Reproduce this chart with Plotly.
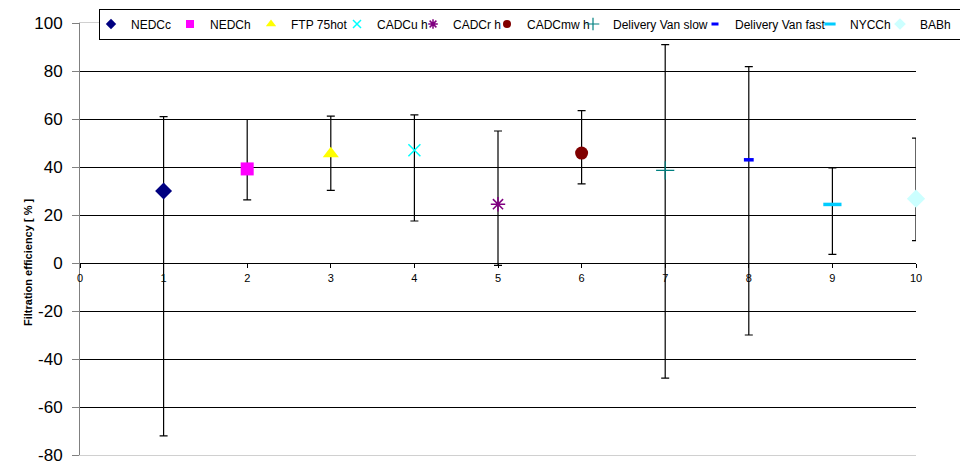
import plotly.graph_objects as go

# ---- data ----
series_names = ["NEDCc", "NEDCh", "FTP 75hot", "CADCu h", "CADCr h", "CADCmw h",
                "Delivery Van slow", "Delivery Van fast", "NYCCh", "BABh"]
x_positions = [1, 2, 3, 4, 5, 6, 7, 8, 9, 10]
efficiency = [30, 39.2, 45.5, 47, 24.5, 45.8, 38.6, 43, 24.4, 26.8]
upper_bound = [61, 59.8, 61.2, 61.7, 55, 63.5, 91, 81.8, 39.6, 52]
lower_bound = [-72, 26.3, 30.3, 17.5, -1, 33, -48, -30, 3.6, 9.3]
x_tick_vals = [0, 1, 2, 3, 4, 5, 6, 7, 8, 9, 10]
y_tick_vals = [-80, -60, -40, -20, 0, 20, 40, 60, 80, 100]
y_tick_text = ["-80", "-60", "-40", "-20", "0", "20", "40", "60", "80", "100"]

# ---- styles ----
styles = [
    dict(symbol="diamond", size=13, lsize=8, color="#000080", lw=0),
    dict(symbol="square", size=13, lsize=8, color="#FF00FF", lw=0),
    dict(symbol="triangle-up", size=14, lsize=9, color="#FFFF00", lw=0),
    dict(symbol="x-thin", size=12, lsize=8, color="#00FFFF", lw=1.5),
    dict(symbol="asterisk", size=12, lsize=8, color="#800080", lw=1.5),
    dict(symbol="circle", size=13, lsize=8, color="#800000", lw=0),
    dict(symbol="cross-thin", size=13, lsize=9, color="#008080", lw=1.2),
    dict(symbol="line-ew", size=7, lsize=5, color="#0000FF", lw=3.5),
    dict(symbol="line-ew", size=13, lsize=8, color="#00CCFF", lw=3.5),
    dict(symbol="diamond", size=14, lsize=9, color="#CCFFFF", lw=0),
]
legend_widths = [42, 44, 49, 39, 37, 49, 85, 78, 33, 48]

FONT = "Arial, Liberation Sans, sans-serif"

# the page is drawn with an 8px body margin, so the figure is 8px smaller
W, H = 960, 455
ML, MT, MR, MB = 72, 15, 52, 8
PW = W - ML - MR
PH = H - MT - MB

fig = go.Figure()
for i, name in enumerate(series_names):
    st = styles[i]
    fig.add_trace(go.Scatter(
        x=[x_positions[i]], y=[efficiency[i]], name=name, mode="markers",
        legendgroup=name, showlegend=False,
        marker=dict(symbol=st["symbol"], size=st["size"], color=st["color"],
                    line=dict(color=st["color"], width=st["lw"])),
        error_y=dict(type="data", symmetric=False,
                     array=[upper_bound[i] - efficiency[i]],
                     arrayminus=[efficiency[i] - lower_bound[i]],
                     color="#000000", thickness=1.2, width=4),
        cliponaxis=False,
    ))
for i, name in enumerate(series_names):
    st = styles[i]
    fig.add_trace(go.Scatter(
        x=[None], y=[None], name=name, mode="markers", legendgroup=name,
        marker=dict(symbol=st["symbol"], size=st["lsize"], color=st["color"],
                    line=dict(color=st["color"], width=min(st["lw"], 3))),
        legendwidth=legend_widths[i],
    ))

# helper axis drawing the light gray frame at top/bottom
fig.add_trace(go.Scatter(x=[0], y=[0], xaxis="x2", mode="markers",
                         marker=dict(opacity=0), showlegend=False, hoverinfo="skip"))

fig.update_layout(
    width=W, height=H,
    margin=dict(l=ML, r=MR, t=MT, b=MB, autoexpand=False),
    paper_bgcolor="white", plot_bgcolor="white",
    font=dict(family=FONT, color="black"),
    showlegend=True,
    legend=dict(orientation="h", x=1 + 58 / PW, xanchor="right",
                y=1 + (MT - 0.5) / PH, yanchor="top",
                bgcolor="white", bordercolor="black", borderwidth=1,
                font=dict(size=12, family=FONT), indentation=-8,
                itemwidth=30, tracegroupgap=0),
    xaxis=dict(range=[0, 10], tickvals=x_tick_vals, ticktext=[str(v) for v in x_tick_vals],
               anchor="free", position=80 / 180, showgrid=False, zeroline=False,
               showline=True, linecolor="black", linewidth=1,
               ticks="outside", ticklen=4, tickcolor="black",
               ticklabelstandoff=1,
               tickfont=dict(size=11, family=FONT)),
    xaxis2=dict(range=[0, 10], overlaying="x", anchor="y", side="bottom",
                showline=True, mirror=True, linecolor="#D0D0D0", linewidth=1,
                showgrid=False, zeroline=False, showticklabels=False, ticks=""),
    yaxis=dict(range=[-80, 100], tickvals=y_tick_vals, ticktext=y_tick_text,
               showgrid=True, gridcolor="black", gridwidth=1, zeroline=False,
               showline=True, linecolor="#808080", linewidth=1,
               ticks="outside", ticklen=7, tickcolor="#808080",
               ticklabelstandoff=6, ticklabeloverflow="allow",
               tickfont=dict(size=17, family=FONT)),
    annotations=[dict(text="<b>Filtration efficiency [ % ]</b>", textangle=-90,
                      xref="paper", yref="y", x=-52 / PW, y=0,
                      xanchor="center", yanchor="middle", showarrow=False,
                      font=dict(size=11, family=FONT))],
)

fig.write_html("out.html")
